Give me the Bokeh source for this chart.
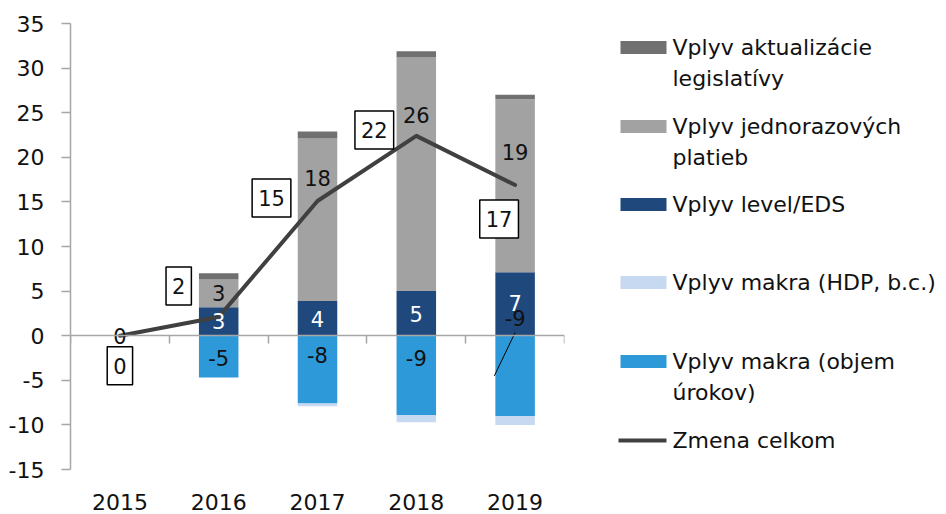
from bokeh.plotting import figure
from bokeh.models import Range1d, FixedTicker, LinearAxis, ColumnDataSource
from bokeh.layouts import row
from bokeh.embed import file_html
from bokeh.resources import INLINE
from bokeh.core.properties import value

# ---------------- data ----------------
years = ["2015", "2016", "2017", "2018", "2019"]
legislativa = [0.0, 0.7, 0.8, 0.7, 0.5]      # Vplyv aktualizácie legislatívy
jednorazove = [0.0, 3.1, 18.2, 26.2, 19.4]   # Vplyv jednorazových platieb
level_eds = [0.0, 3.2, 3.9, 5.0, 7.1]        # Vplyv level/EDS
makro_hdp = [0.0, 0.0, -0.3, -0.8, -1.0]     # Vplyv makra (HDP, b.c.)
makro_objem = [0.0, -4.7, -7.6, -8.9, -9.0]  # Vplyv makra (objem úrokov)
zmena = [0.0, 2.1, 15.1, 22.4, 16.9]         # Zmena celkom
y_ticks = [-15, -10, -5, 0, 5, 10, 15, 20, 25, 30, 35]

legend_labels = [
    ["Vplyv aktualizácie", "legislatívy"],
    ["Vplyv jednorazových", "platieb"],
    ["Vplyv level/EDS"],
    ["Vplyv makra (HDP, b.c.)"],
    ["Vplyv makra (objem", "úrokov)"],
    ["Zmena celkom"],
]

# ---------------- style ----------------
C_LEG = "#707070"
C_JED = "#a2a2a2"
C_LEVEL = "#1f497d"
C_HDP = "#c6d9f1"
C_OBJEM = "#2e99d9"
C_LINE = "#404040"
C_AXIS = "#a6a6a6"
FONT = "DejaVu Sans"
TICK_FS = "22px"
LAB_FS = "21px"

# label placement (data-y of label centres, pixel offsets for boxed labels)
jed_label_y = [0.0, 4.8, 17.7, 24.7, 20.6]
level_label_y = [None, 1.68, 1.9, 2.47, 3.7]
objem_label_y = [None, -2.47, -2.13, -2.47, 2.0]
box_dx = [0, -40, -46, -42, -16]
box_dy = [30, -31, -3, -6, 34]

PAGE_W, PAGE_H = 946, 514
MAIN_W = 576
TOP_PX = 23
PX_PER_UNIT = 8.92
y_top = 35
y_bottom = y_top - (PAGE_H - TOP_PX) / PX_PER_UNIT

x = [i + 0.5 for i in range(len(years))]

p = figure(width=MAIN_W, height=PAGE_H, output_backend="svg", toolbar_location=None,
           x_range=Range1d(0, len(years)), y_range=Range1d(y_bottom, y_top),
           x_axis_type=None, min_border_left=70, min_border_right=MAIN_W - 564,
           min_border_top=TOP_PX, min_border_bottom=0)
p.outline_line_color = None
p.grid.visible = False
p.background_fill_color = "white"
p.border_fill_color = "white"

# y axis
ya = p.yaxis[0]
ya.ticker = FixedTicker(ticks=y_ticks)
ya.bounds = (y_ticks[0], y_ticks[-1])
ya.major_label_overrides = {t: str(t) for t in y_ticks}
ya.axis_line_color = C_AXIS
ya.axis_line_width = 1.5
ya.major_tick_line_color = C_AXIS
ya.major_tick_line_width = 1.5
ya.major_tick_out = 9
ya.major_tick_in = 0
ya.minor_tick_line_color = None
ya.major_label_text_font = FONT
ya.major_label_text_font_size = TICK_FS
ya.major_label_text_color = "#111111"
ya.major_label_standoff = 17

# zero axis with ticks between categories
zero_axis = LinearAxis(ticker=FixedTicker(ticks=list(range(len(years) + 1))), fixed_location=0,
                       axis_line_color=C_AXIS, axis_line_width=1.5,
                       major_tick_line_color=C_AXIS, major_tick_line_width=1.5,
                       major_tick_out=8, major_tick_in=0, minor_tick_line_color=None,
                       major_label_text_color=None, major_label_text_font_size="1px")
p.add_layout(zero_axis, "below")

# category labels at the bottom
year_axis = LinearAxis(ticker=FixedTicker(ticks=x),
                       major_label_overrides={xi: yr for xi, yr in zip(x, years)},
                       fixed_location=y_ticks[0],
                       axis_line_color=None, major_tick_line_color=None, minor_tick_line_color=None,
                       major_tick_out=0, major_tick_in=0,
                       major_label_text_font=FONT, major_label_text_font_size=TICK_FS,
                       major_label_text_color="#111111", major_label_standoff=24)
p.add_layout(year_axis, "below")

src = ColumnDataSource(dict(x=x, level=level_eds, jed=jednorazove, leg=legislativa,
                            objem=makro_objem, hdp=makro_hdp))
p.vbar_stack(["level", "jed", "leg"], x="x", width=0.4, source=src,
             fill_color=[C_LEVEL, C_JED, C_LEG], line_color=None)
p.vbar_stack(["objem", "hdp"], x="x", width=0.4, source=src,
             fill_color=[C_OBJEM, C_HDP], line_color=None)

p.line(x, zmena, line_color=C_LINE, line_width=4, line_join="round", line_cap="round")

# data labels
def fmt(v):
    return "%d" % round(v)

idx = [i for i in range(len(years)) if level_label_y[i] is not None]
p.text(x=[x[i] for i in idx], y=[level_label_y[i] for i in idx],
       text=[fmt(level_eds[i]) for i in idx], text_color="white",
       text_font=value(FONT), text_font_size=LAB_FS, text_align="center", text_baseline="middle")
p.text(x=x, y=jed_label_y, text=[fmt(v) for v in jednorazove], text_color="#111111",
       text_font=value(FONT), text_font_size=LAB_FS, text_align="center", text_baseline="middle")
idx = [i for i in range(len(years)) if objem_label_y[i] is not None]
p.text(x=[x[i] for i in idx], y=[objem_label_y[i] for i in idx],
       text=[fmt(makro_objem[i]) for i in idx], text_color="#111111",
       text_font=value(FONT), text_font_size=LAB_FS, text_align="center", text_baseline="middle")
# leader line for displaced 2019 label
last = len(years) - 1
p.segment(x0=[x[last] - 0.21], y0=[makro_objem[last] / 2], x1=[x[last]], y1=[0.35],
          line_color="black", line_width=1)

# boxed total labels
p.text(x=x, y=zmena, text=[fmt(v) for v in zmena], x_offset=box_dx, y_offset=box_dy,
       text_color="#111111", text_font=value(FONT), text_font_size=LAB_FS,
       text_align="center", text_baseline="middle",
       background_fill_color="white", border_line_color="black", border_line_width=1.5,
       padding=dict(left=6, right=6, top=11, bottom=11))

# ---------------- legend panel ----------------
LEG_W = PAGE_W - MAIN_W
leg = figure(width=LEG_W, height=PAGE_H, output_backend="svg", toolbar_location=None,
             x_range=Range1d(0, LEG_W), y_range=Range1d(PAGE_H, TOP_PX),
             x_axis_type=None, y_axis_type=None,
             min_border_left=0, min_border_right=0, min_border_top=TOP_PX, min_border_bottom=0)
leg.outline_line_color = None
leg.grid.visible = False

row_y = [47, 126, 204, 282, 361, 440]
line_gap = 31
sw_x, sw_w, sw_h = 67, 46, 13
text_x = 96
swatch_colors = [C_LEG, C_JED, C_LEVEL, C_HDP, C_OBJEM]
leg.rect(x=[sw_x] * 5, y=row_y[:5], width=sw_w, height=sw_h,
         fill_color=swatch_colors, line_color=None)
leg.line(x=[sw_x - sw_w / 2 - 2, sw_x + sw_w / 2], y=[row_y[5], row_y[5]],
         line_color=C_LINE, line_width=4)
tx, ty, tt = [], [], []
for yy, lines in zip(row_y, legend_labels):
    for k, s in enumerate(lines):
        tx.append(text_x)
        ty.append(yy + k * line_gap)
        tt.append(s)
leg.text(x=tx, y=ty, text=tt, text_color="#111111", text_font=value(FONT),
         text_font_size=TICK_FS, text_align="left", text_baseline="middle")

layout = row(p, leg)
open("out.html", "w").write(file_html(layout, INLINE))
